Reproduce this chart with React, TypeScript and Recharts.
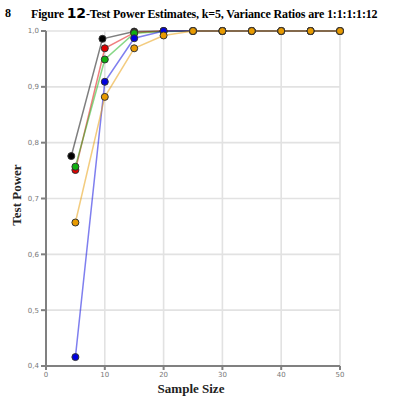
import React from 'react';
import { LineChart, Line, XAxis, YAxis, CartesianGrid } from 'recharts';

const sampleSizes = [5, 10, 15, 20, 25, 30, 35, 40, 45, 50];
const blackSizes = [4.3, 9.6, 15, 20, 25, 30, 35, 40, 45, 50];
const blackPower = [0.776, 0.986, 0.999, 1, 1, 1, 1, 1, 1, 1];
const redPower = [0.751, 0.969, 0.997, 1, 1, 1, 1, 1, 1, 1];
const greenPower = [0.757, 0.949, 0.996, 0.999, 1, 1, 1, 1, 1, 1];
const bluePower = [0.416, 0.909, 0.987, 1, 1, 1, 1, 1, 1, 1];
const orangePower = [0.657, 0.882, 0.969, 0.992, 1, 1, 1, 1, 1, 1];
const xTicks = [0, 10, 20, 30, 40, 50];
const yTicks = [0.4, 0.5, 0.6, 0.7, 0.8, 0.9, 1.0];

const toData = (xs: number[], ys: number[]) => xs.map((x, i) => ({ x, y: ys[i] }));

const seriesList = [
  { name: 'black', data: toData(blackSizes, blackPower), color: '#000000' },
  { name: 'red', data: toData(sampleSizes, redPower), color: '#e00000' },
  { name: 'green', data: toData(sampleSizes, greenPower), color: '#10b010' },
  { name: 'blue', data: toData(sampleSizes, bluePower), color: '#0000e0' },
  { name: 'orange', data: toData(sampleSizes, orangePower), color: '#e89a00' },
];

const serif = '"Liberation Serif", "DejaVu Serif", serif';

export default function App() {
  return (
    <div style={{ position: 'absolute', left: 0, top: 0, width: 394, height: 396, background: '#fff' }}>
      <div style={{ position: 'absolute', left: 5, top: 6, fontFamily: serif, fontWeight: 'bold', fontSize: 12, whiteSpace: 'nowrap' }}>8</div>
      <div style={{ position: 'absolute', left: 31, top: 5, fontFamily: serif, fontWeight: 'bold', fontSize: 12, whiteSpace: 'nowrap', letterSpacing: -0.15 }}>
        Figure <span style={{ fontSize: 14, fontFamily: '"DejaVu Sans", sans-serif' }}>12</span>-Test Power Estimates, k=5, Variance Ratios are 1:1:1:1:12
      </div>
      <LineChart width={394} height={396} margin={{ top: 31, right: 54, bottom: 0, left: 0 }}>
        <CartesianGrid stroke="#e2e2e2" strokeWidth={1.6} />
        <XAxis
          type="number"
          dataKey="x"
          domain={[0, 50]}
          ticks={xTicks}
          height={30}
          tickSize={4}
          stroke="#808080"
          strokeWidth={2}
          tick={{ fontSize: 7, fill: '#777', fontFamily: '"DejaVu Sans", sans-serif' }}
          allowDuplicatedCategory={false}
        />
        <YAxis
          type="number"
          dataKey="y"
          domain={[0.4, 1.0]}
          ticks={yTicks}
          width={46}
          tickSize={5}
          stroke="#808080"
          strokeWidth={2}
          tickFormatter={(v: number) => v.toFixed(1).replace('.', ',')}
          tick={{ fontSize: 7, fill: '#777', fontFamily: '"DejaVu Sans", sans-serif' }}
        />
        {seriesList.map((s) => (
          <Line
            key={s.name}
            data={s.data}
            dataKey="y"
            type="linear"
            stroke={s.color}
            strokeOpacity={0.5}
            strokeWidth={1.5}
            dot={{ r: 3.5, fill: s.color, stroke: '#333', strokeWidth: 1, fillOpacity: 1, strokeOpacity: 1 }}
            isAnimationActive={false}
          />
        ))}
      </LineChart>
      <div style={{ position: 'absolute', left: 17, top: 195, transform: 'translate(-50%, -50%) rotate(-90deg)', fontFamily: serif, fontWeight: 'bold', fontSize: 13, whiteSpace: 'nowrap', color: '#222' }}>Test Power</div>
      <div style={{ position: 'absolute', left: 191, top: 389, transform: 'translate(-50%, -50%)', fontFamily: serif, fontWeight: 'bold', fontSize: 13, whiteSpace: 'nowrap', color: '#222' }}>Sample Size</div>
    </div>
  );
}
